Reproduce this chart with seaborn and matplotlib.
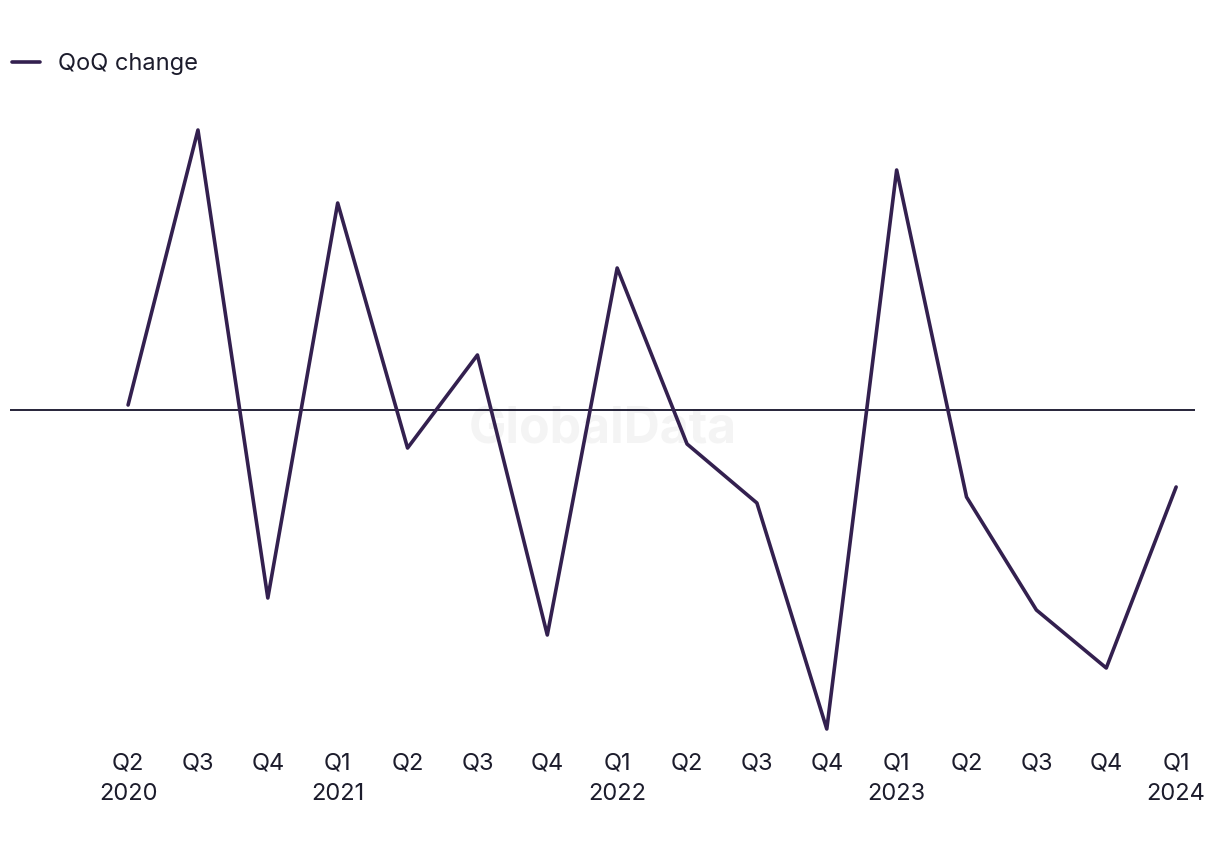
import numpy as np
import pandas as pd
import matplotlib
matplotlib.use('Agg')
import matplotlib.pyplot as plt
import seaborn as sns

# ── Data (QoQ change) ────────────────────────────────────────────────────────
quarters = ['Q2', 'Q3', 'Q4', 'Q1', 'Q2', 'Q3', 'Q4', 'Q1',
            'Q2', 'Q3', 'Q4', 'Q1', 'Q2', 'Q3', 'Q4', 'Q1']
years = ['2020', '', '', '2021', '', '', '', '2022',
         '', '', '', '2023', '', '', '', '2024']
qoq_change = [0.25, 14.0, -9.4, 10.35, -1.9, 2.75, -11.25, 7.1,
              -1.7, -4.65, -15.95, 12.0, -4.35, -10.0, -12.9, -3.85]

LINE_COLOR = '#33204f'

df = pd.DataFrame({'idx': np.arange(len(qoq_change)), 'QoQ change': qoq_change})
tick_labels = [q + ('\n' + y if y else '') for q, y in zip(quarters, years)]

sns.set_style('white')
plt.rcParams['font.family'] = ['Inter', 'DejaVu Sans']

fig = plt.figure(figsize=(12.2, 8.5), dpi=100)
ax = fig.add_axes([10 / 1220, 110 / 850, 1185 / 1220, 640 / 850])

# watermark
ax.text(0.5, 0.485, 'GlobalData', transform=ax.transAxes, ha='center', va='center',
        fontsize=36, fontweight='bold', color='#f4f4f4', zorder=0)

ax.axhline(0, color='#15122a', linewidth=1.3, zorder=1)
sns.lineplot(data=df, x='idx', y='QoQ change', color=LINE_COLOR, linewidth=2.6,
             ax=ax, label='QoQ change', zorder=2)

ax.set_xlim(-1.69, 15.27)
ax.set_ylim(-16.5, 15.5)
ax.set_xticks(df['idx'])
ax.set_xticklabels(tick_labels, fontsize=17, color='#1c1c2c', linespacing=1.5)
ax.tick_params(axis='x', length=0, pad=9)
ax.set_yticks([])
ax.set_xlabel('')
ax.set_ylabel('')
for s in ax.spines.values():
    s.set_visible(False)

ax.legend(loc='upper left', bbox_to_anchor=(12 / 1220, 1 - 53 / 850),
          bbox_transform=fig.transFigure, frameon=False, fontsize=17,
          handlelength=1.2, handletextpad=0.75, borderaxespad=0, borderpad=0,
          labelcolor='#1c1c2c')

fig.savefig('out.png', dpi=100)
plt.close()
